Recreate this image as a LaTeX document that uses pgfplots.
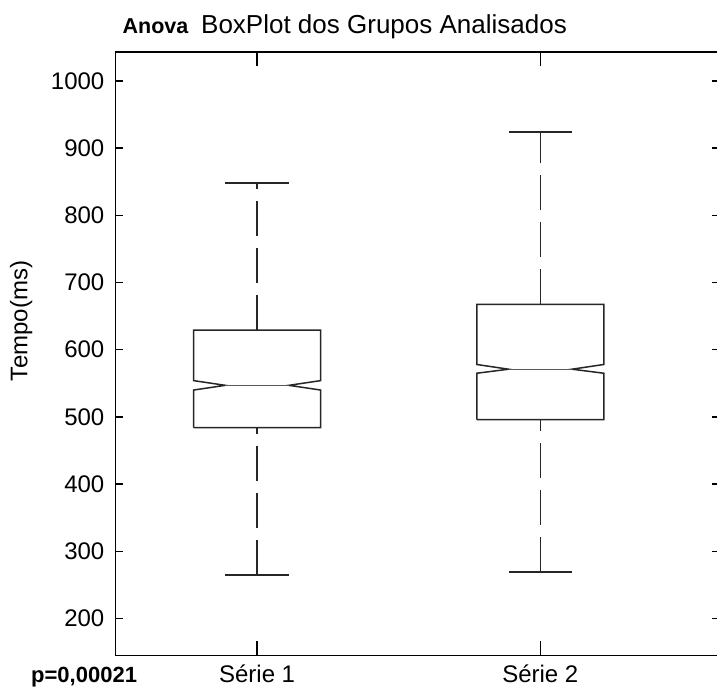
\documentclass[border=0pt]{standalone}
\usepackage{fontspec}
\setmainfont{Liberation Sans}
\usepackage{pgfplots}
\pgfplotsset{compat=1.18}
\begin{document}
\begin{tikzpicture}[x=1pt,y=1pt]
\begin{axis}[
  name=ax, at={(0,0)}, anchor=south west,
  width=603.5pt, height=603.5pt, scale only axis,
  xmin=0.5, xmax=2.631, ymin=145, ymax=1043,
  xtick={1,2}, xticklabels={Série 1,Série 2},
  ytick={200,300,400,500,600,700,800,900,1000},
  tick align=inside,
  axis line style={line width=1.5pt, black},
  major tick style={line width=1.3pt, black},
  xtick style={/pgfplots/major tick length=14pt},
  ytick style={/pgfplots/major tick length=7pt},
  /pgf/number format/assume math mode=true,
  /pgf/number format/1000 sep={},
  ticklabel style={font=\fontsize{24}{28}\selectfont},
  yticklabel style={inner sep=0pt, xshift=-11pt},
  xticklabel style={anchor=base, inner sep=0pt, yshift=-27pt},
  clip=false,
]
% Serie 1 box with notch
\addplot[line width=1.5pt, black!85, sharp plot] coordinates {
 (0.7757,484) (0.7757,540) (0.8878,547) (0.7757,554) (0.7757,629)
 (1.2243,629) (1.2243,554) (1.1122,547) (1.2243,540) (1.2243,484) (0.7757,484)};
\addplot[line width=1pt, black!65] coordinates {(0.8878,547) (1.1122,547)};
\addplot[line width=1.5pt, black!85, dash pattern=on 35pt off 12pt] coordinates {(1,629) (1,848)};
\addplot[line width=1.5pt, black!85, dash pattern=on 35pt off 12pt] coordinates {(1,264.5) (1,484)};
\addplot[line width=1.5pt, black!85] coordinates {(0.888,848) (1.112,848)};
\addplot[line width=1.5pt, black!85] coordinates {(0.888,264.5) (1.112,264.5)};
% Serie 2 box with notch
\addplot[line width=1.5pt, black!85, sharp plot] coordinates {
 (1.7759,496) (1.7759,565) (1.8880,571) (1.7759,578) (1.7759,667.5)
 (2.2241,667.5) (2.2241,578) (2.1120,571) (2.2241,565) (2.2241,496) (1.7759,496)};
\addplot[line width=1pt, black!65] coordinates {(1.8880,571) (2.1120,571)};
\addplot[line width=1.5pt, black!85, dash pattern=on 35pt off 12pt] coordinates {(2,667.5) (2,923.6)};
\addplot[line width=1.5pt, black!85, dash pattern=on 35pt off 12pt] coordinates {(2,269.4) (2,496)};
\addplot[line width=1.5pt, black!85] coordinates {(1.888,923.6) (2.112,923.6)};
\addplot[line width=1.5pt, black!85] coordinates {(1.888,269.4) (2.112,269.4)};
\end{axis}
\node[anchor=base west, inner sep=0pt, font=\fontsize{21.5}{25}\selectfont\bfseries] at (7,622) {Anova};
\node[anchor=base west, inner sep=0pt, font=\fontsize{26}{31}\selectfont] at (85.5,622) {BoxPlot dos Grupos Analisados};
\node[anchor=base, inner sep=0pt, rotate=90, font=\fontsize{24}{28}\selectfont] at (-88,334.5) {Tempo(ms)};
\node[anchor=base west, inner sep=0pt, font=\fontsize{22}{26}\selectfont\bfseries] at (-84.5,-27) {p=0,00021};
\pgfresetboundingbox
\path[use as bounding box] (-115.5,-32.5) rectangle (601.5,655.5);
\end{tikzpicture}
\end{document}
